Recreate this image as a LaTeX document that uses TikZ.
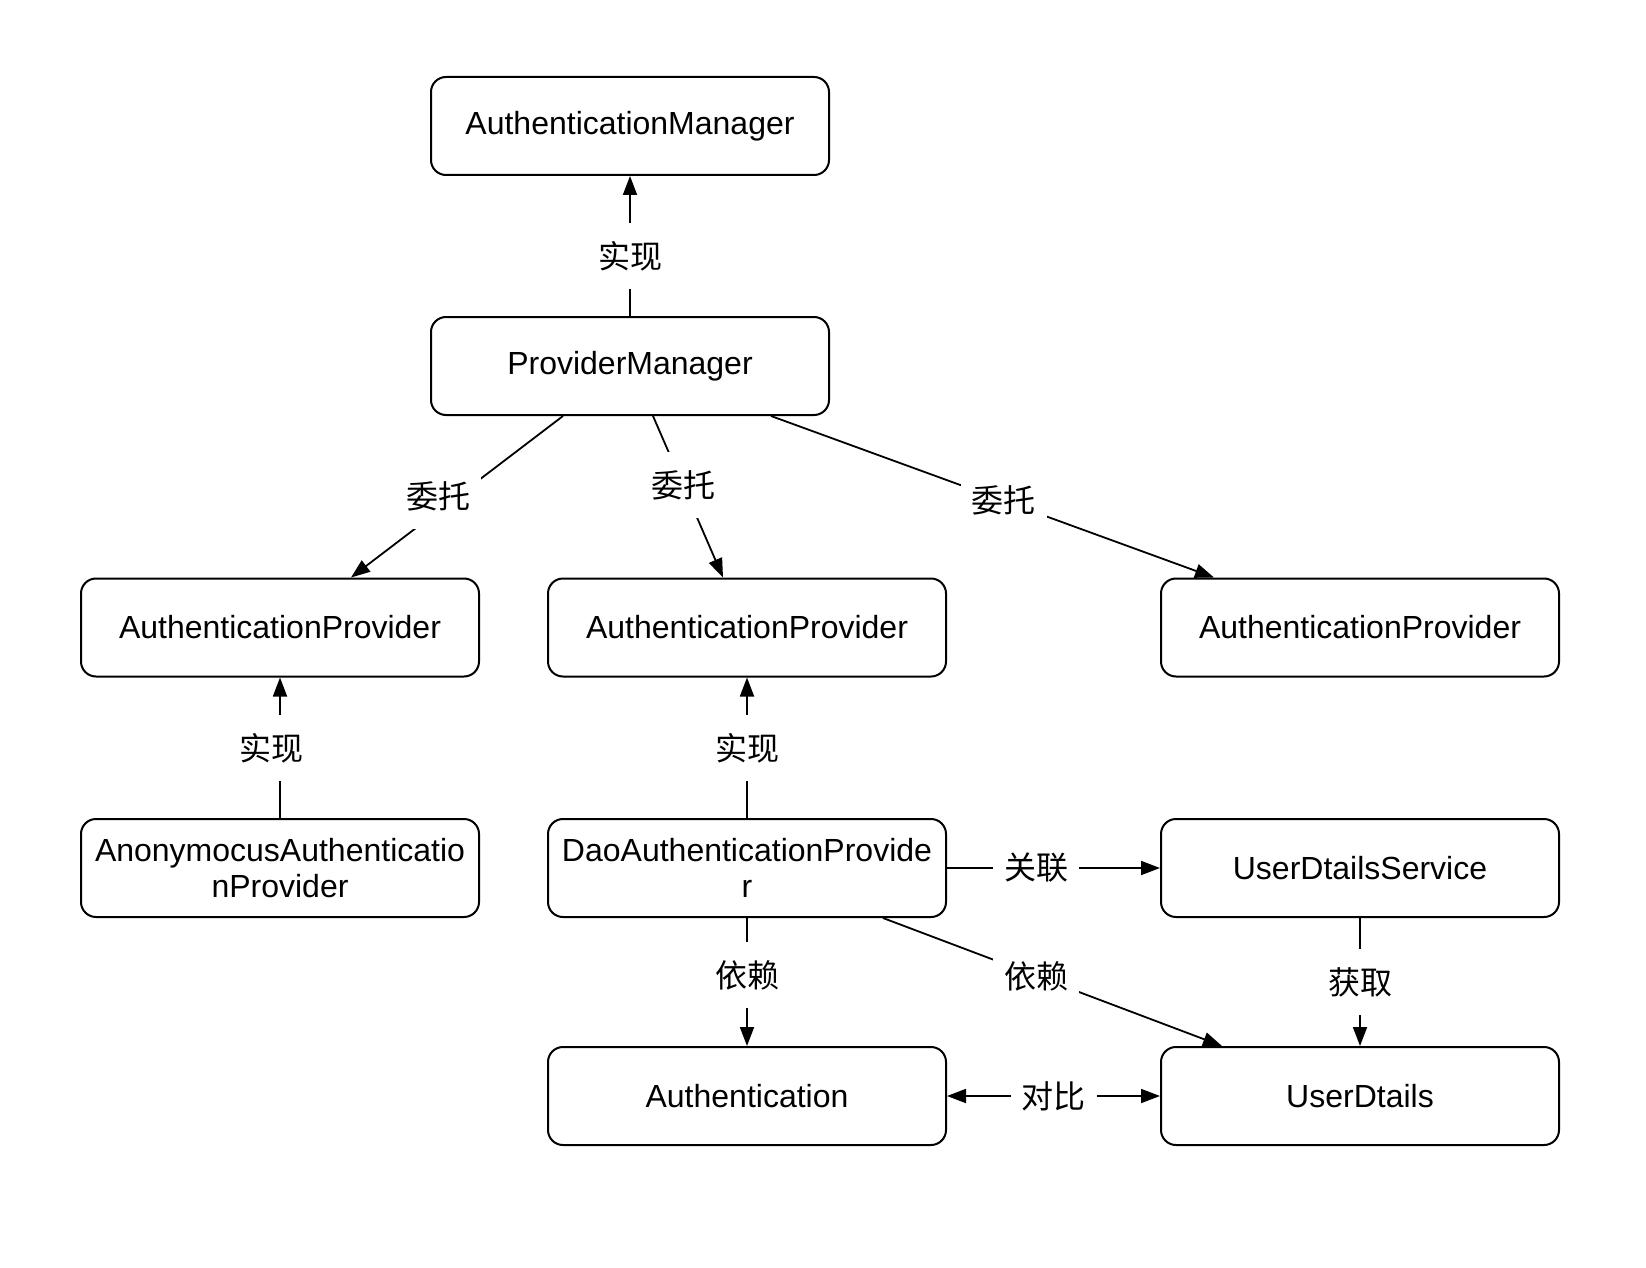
\documentclass[tikz,border=0pt]{standalone}
\usepackage{fontspec}
\setmainfont{Liberation Sans}
\newfontfamily\cjk{Noto Sans CJK SC}
\usetikzlibrary{arrows.meta}
\begin{document}
\begin{tikzpicture}[x=1pt,y=-1pt,
  box/.style={draw=black, line width=2pt, rounded corners=15pt, fill=white,
    minimum width=398pt, minimum height=98pt, inner sep=0pt, align=center,
    font=\fontsize{32}{36}\selectfont},
  lbl/.style={fill=white, minimum width=86pt, minimum height=66pt, inner sep=0pt,
    font=\cjk\fontsize{32}{36}\selectfont},
  conn/.style={line width=1.8pt, -{Triangle[length=19pt,width=14pt]}},
  plain/.style={line width=1.8pt}]
\useasboundingbox (0,0) rectangle (1646,1268);
\fill[white] (0,0) rectangle (1646,1268);

% boxes
\node[box] (am)   at (630,126)   {AuthenticationManager};
\node[box] (pm)   at (630,366)   {ProviderManager};
\node[box] (ap1)  at (280,627.5) {AuthenticationProvider};
\node[box] (ap2)  at (747,627.5) {AuthenticationProvider};
\node[box] (ap3)  at (1360,627.5){AuthenticationProvider};
\node[box] (anon) at (280,868)   {AnonymocusAuthenticatio\\nProvider};
\node[box] (dao)  at (747,868)   {DaoAuthenticationProvide\\r};
\node[box] (uds)  at (1360,868)  {UserDtailsService};
\node[box] (auth) at (747,1096)  {Authentication};
\node[box] (ud)   at (1360,1096) {UserDtails};

% connectors
\draw[conn] (pm.north) -- (am.south);
\draw[conn] ([xshift=-67pt]pm.south) -- ([xshift=71pt]ap1.north);
\draw[conn] ([xshift=23pt]pm.south) -- ([xshift=-24pt]ap2.north);
\draw[conn] ([xshift=141pt]pm.south) -- ([xshift=-146pt]ap3.north);
\draw[conn] (anon.north) -- (ap1.south);
\draw[conn] (dao.north) -- (ap2.south);
\draw[conn] (dao.east) -- (uds.west);
\draw[conn] (dao.south) -- (auth.north);
\draw[conn] ([xshift=136pt]dao.south) -- ([xshift=-138pt]ud.north);
\draw[conn] (uds.south) -- (ud.north);
\draw[line width=1.8pt, {Triangle[length=19pt,width=14pt]}-{Triangle[length=19pt,width=14pt]}] (auth.east) -- (ud.west);

% labels
\node[lbl] (l1)  at (630,256)    {实现};
\node[lbl] (l2)  at (438,496)    {委托};
\node[lbl] (l3)  at (683,485)    {委托};
\node[lbl] (l4)  at (1003.5,500) {委托};
\node[lbl] (l5)  at (271,748)    {实现};
\node[lbl] (l6)  at (747,748)    {实现};
\node[lbl] (l7)  at (1036,868)   {关联};
\node[lbl] (l8)  at (747,975)    {依赖};
\node[lbl] (l9)  at (1036,976)   {依赖};
\node[lbl] (l10) at (1360,982)   {获取};
\node[lbl] (l11) at (1053.5,1096){对比};
\end{tikzpicture}
\end{document}
